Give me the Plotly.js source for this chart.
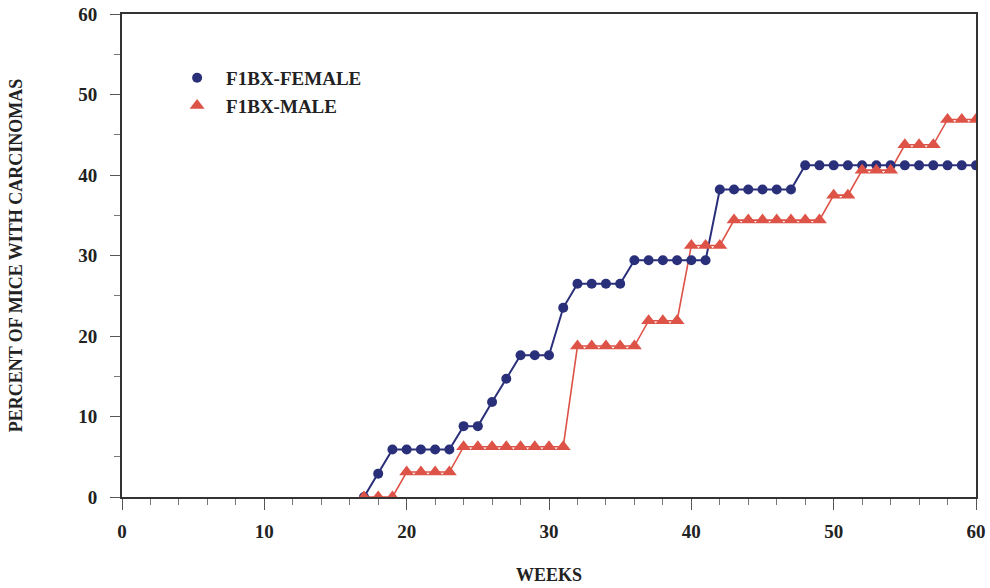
<!DOCTYPE html>
<html>
<head>
<meta charset="utf-8">
<script src="https://cdn.plot.ly/plotly-3.0.1.min.js"></script>
<style>html,body{margin:0;padding:0;background:#fff;}#chart{width:990px;height:588px;}</style>
</head>
<body>
<div id="chart"></div>
<script>
// Weeks
var weeks = [17,18,19,20,21,22,23,24,25,26,27,28,29,30,31,32,33,34,35,36,37,38,39,40,41,42,43,44,45,46,47,48,49,50,51,52,53,54,55,56,57,58,59,60];
// F1BX-FEMALE (% of mice with carcinomas)
var femaleValues = [0,2.9,5.9,5.9,5.9,5.9,5.9,8.8,8.8,11.8,14.7,17.6,17.6,17.6,23.5,26.5,26.5,26.5,26.5,29.4,29.4,29.4,29.4,29.4,29.4,38.2,38.2,38.2,38.2,38.2,38.2,41.2,41.2,41.2,41.2,41.2,41.2,41.2,41.2,41.2,41.2,41.2,41.2,41.2];
// F1BX-MALE
var maleValues = [0,0,0,3.1,3.1,3.1,3.1,6.25,6.25,6.25,6.25,6.25,6.25,6.25,6.25,18.75,18.75,18.75,18.75,18.75,21.9,21.9,21.9,31.25,31.25,31.25,34.4,34.4,34.4,34.4,34.4,34.4,34.4,37.5,37.5,40.6,40.6,40.6,43.75,43.75,43.75,46.9,46.9,46.9];
var seriesNames = ['F1BX-FEMALE','F1BX-MALE'];
var xTickVals = [0,10,20,30,40,50,60];
var yTickVals = [0,10,20,30,40,50,60];

var blue = '#2a2f7a';
var red = '#de5347';
var serif = '"Liberation Serif", "Times New Roman", serif';

var traces = [
  {x: weeks, y: femaleValues, mode: 'lines', type: 'scatter', showlegend: false, hoverinfo: 'skip',
   line: {color: blue, width: 2}, legendgroup: 'f'},
  {x: weeks, y: maleValues, mode: 'lines', type: 'scatter', showlegend: false, hoverinfo: 'skip',
   line: {color: red, width: 1.6}, legendgroup: 'm'},
  {x: weeks, y: femaleValues, name: seriesNames[0], mode: 'markers', type: 'scatter',
   marker: {symbol: 'circle', size: 10, color: blue}, legendgroup: 'f'},
  {x: weeks, y: maleValues, name: seriesNames[1], mode: 'markers', type: 'scatter',
   marker: {symbol: 'triangle-up', size: 13, color: red}, legendgroup: 'm'}
];

var axisCommon = {
  showline: true, mirror: true, linecolor: '#333', linewidth: 2,
  showgrid: false, zeroline: false, ticks: 'outside', tickcolor: '#555', tickwidth: 1,
  tickfont: {family: serif, size: 19, color: '#222', weight: 'bold'}
};

var layout = {
  width: 990, height: 588,
  margin: {l: 122, r: 14, t: 14, b: 91},
  paper_bgcolor: '#fff', plot_bgcolor: '#fff',
  showlegend: true,
  legend: {x: 0.054, y: 0.907, xanchor: 'left', yanchor: 'top', bgcolor: 'rgba(0,0,0,0)', itemwidth: 48,
    font: {family: serif, size: 19, color: '#222', weight: 'bold'}, tracegroupgap: 0, traceorder: 'grouped'},
  xaxis: Object.assign({}, axisCommon, {
    range: [0, 60], tickvals: xTickVals, ticklen: 11, ticklabelstandoff: 5,
    minor: {dtick: 2, ticks: 'outside', ticklen: 6, tickcolor: '#777', showgrid: false},
    title: {text: 'WEEKS', font: {family: serif, size: 18, color: '#222', weight: 'bold'}, standoff: 28}
  }),
  yaxis: Object.assign({}, axisCommon, {
    range: [0, 60], tickvals: yTickVals, ticklen: 10, ticklabelstandoff: 9,
    minor: {dtick: 5, ticks: 'outside', ticklen: 6, tickcolor: '#777', showgrid: false},
    title: {text: 'PERCENT OF MICE WITH CARCINOMAS', font: {family: serif, size: 18, color: '#222', weight: 'bold'}, standoff: 51}
  })
};

Plotly.newPlot('chart', traces, layout, {displayModeBar: false, staticPlot: true});
</script>
</body>
</html>
